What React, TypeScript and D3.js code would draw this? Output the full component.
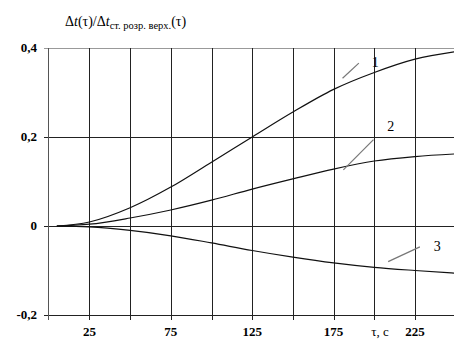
import React, { useRef, useEffect } from "react"
import * as d3 from "d3"

// values
const tau = [5, 25, 50, 75, 100, 125, 150, 175, 200, 225, 250]
const curve1 = [0, 0.009, 0.041, 0.0875, 0.1435, 0.2, 0.256, 0.307, 0.345, 0.375, 0.392]
const curve2 = [0, 0.004, 0.018, 0.036, 0.058, 0.083, 0.106, 0.128, 0.146, 0.156, 0.162]
const curve3 = [0, -0.002, -0.01, -0.022, -0.038, -0.055, -0.07, -0.083, -0.093, -0.1, -0.106]

const xTicks = [25, 50, 75, 100, 125, 150, 175, 200, 225]
const xTickLabels = ["25", "", "75", "", "125", "", "175", "", "225"]
const yTicks = [0.4, 0.2, 0, -0.2]
const yTickLabels = ["0,4", "0,2", "0", "-0,2"]

// label "n", leader line from (t1,v1) to (t2,v2), label at (tl,vl)
const labels = [
  { name: "1", t1: 180.5, v1: 0.332, t2: 190.5, v2: 0.366, tl: 198.5, vl: 0.366 },
  { name: "2", t1: 181, v1: 0.126, t2: 199.5, v2: 0.194, tl: 208, vl: 0.222 },
  { name: "3", t1: 208.5, v1: -0.08, t2: 228, v2: -0.047, tl: 236.5, vl: -0.047 },
]

export default function App() {
  const svgRef = useRef()

  useEffect(() => {
    const svg = d3.select(svgRef.current)
    svg.selectAll("*").remove()

    const x = d3.scaleLinear().domain([0, 250]).range([48.7, 455.7])
    const y = d3.scaleLinear().domain([-0.2, 0.4]).range([315, 48])
    const font = "Liberation Serif, Times New Roman, serif"

    const g = svg.append("g")

    // horizontal grid + ticks
    yTicks.forEach((v, i) => {
      g.append("line")
        .attr("x1", 44).attr("x2", 454)
        .attr("y1", Math.round(y(v)) + 0.5).attr("y2", Math.round(y(v)) + 0.5)
        .attr("stroke", v === 0.4 ? "#999" : "#222")
        .attr("stroke-width", 1)
      g.append("text")
        .attr("x", 37).attr("y", y(v) + 4)
        .attr("text-anchor", "end")
        .attr("font-family", font)
        .attr("font-size", "13px")
        .attr("font-weight", "bold")
        .text(yTickLabels[i])
    })

    // vertical grid + ticks
    xTicks.forEach((t, i) => {
      const px = Math.round(x(t)) + 0.5
      g.append("line")
        .attr("x1", px).attr("x2", px)
        .attr("y1", y(0.4)).attr("y2", 320)
        .attr("stroke", "#222")
      g.append("text")
        .attr("x", x(t)).attr("y", 336)
        .attr("text-anchor", "middle")
        .attr("font-family", font)
        .attr("font-size", "13px")
        .attr("font-weight", "bold")
        .text(xTickLabels[i])
    })

    // left axis
    g.append("line")
      .attr("x1", 48.5).attr("x2", 48.5)
      .attr("y1", y(0.4)).attr("y2", 320)
      .attr("stroke", "#555")

    // x axis unit
    g.append("text")
      .attr("x", 380).attr("y", 336)
      .attr("text-anchor", "middle")
      .attr("font-family", font)
      .attr("font-size", "13px")
      .text("τ, с")

    // title
    const title = g.append("text")
      .attr("x", 65).attr("y", 26)
      .attr("font-family", font)
      .attr("font-size", "14px")
    title.append("tspan").text("Δ")
    title.append("tspan").attr("font-style", "italic").text("t")
    title.append("tspan").text("(τ)/Δ")
    title.append("tspan").attr("font-style", "italic").text("t")
    title.append("tspan").attr("font-size", "10.5px").attr("dy", 3).text("ст. розр. верх.")
    title.append("tspan").attr("dy", -3).text("(τ)")

    const line = d3.line()
      .x(d => x(d[0]))
      .y(d => y(d[1]))
      .curve(d3.curveMonotoneX)

    ;[curve1, curve2, curve3].forEach(c => {
      g.append("path")
        .datum(tau.map((t, i) => [t, c[i]]))
        .attr("d", line)
        .attr("fill", "none")
        .attr("stroke", "#111")
        .attr("stroke-width", 1.2)
    })

    labels.forEach(l => {
      g.append("line")
        .attr("x1", x(l.t1)).attr("y1", y(l.v1))
        .attr("x2", x(l.t2)).attr("y2", y(l.v2))
        .attr("stroke", "#777")
        .attr("stroke-width", 1.2)
      g.append("text")
        .attr("x", x(l.tl)).attr("y", y(l.vl) + 4)
        .attr("font-family", font)
        .attr("font-size", "14px")
        .text(l.name)
    })
  }, [])

  return (
    <svg ref={svgRef} width={454} height={345}
      style={{ position: "absolute", left: 0, top: 0, background: "#fff" }} />
  )
}
